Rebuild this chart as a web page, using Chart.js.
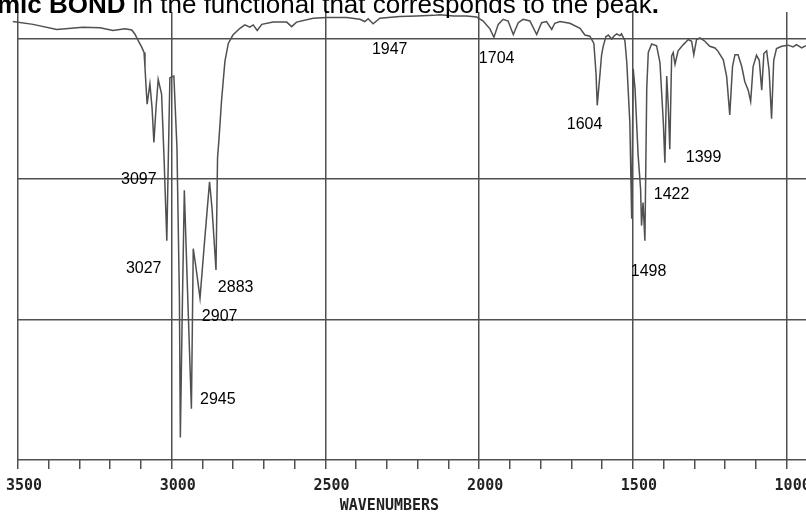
<!DOCTYPE html>
<html>
<head>
<meta charset="utf-8">
<script src="https://cdn.jsdelivr.net/npm/chart.js@4/dist/chart.umd.min.js"></script>
<style>
  html, body { margin: 0; padding: 0; background: #fff; }
  #wrap { width: 806px; height: 515px; }
</style>
</head>
<body>
<div id="wrap"><canvas id="c" width="806" height="515"></canvas></div>
<script>
// Wavenumbers (cm-1)
const wavenumbers = [3517,3451,3374,3289,3233,3191,3152,3130,3120,3109,
  3098,3090,3087,3084,3080,3071,3064,3058,3051,3044,
  3033,3025,3016,3011,3006,2993,2983,2975,2972,2965,
  2959,2950,2936,2930,2921,2908,2895,2877,2869,2856,
  2851,2846,2838,2827,2816,2801,2778,2762,2746,2735,
  2722,2707,2670,2626,2610,2594,2540,2496,2431,2388,
  2372,2361,2345,2323,2258,2203,2149,2128,2084,2041,
  2008,1987,1965,1952,1938,1922,1906,1889,1873,1857,
  1835,1813,1797,1781,1764,1754,1737,1705,1672,1656,
  1640,1627,1620,1616,1607,1602,1597,1588,1580,1569,
  1562,1553,1542,1537,1526,1520,1510,1504,1499,1493,
  1483,1475,1472,1467,1461,1455,1450,1439,1423,1412,
  1401,1396,1390,1385,1380,1374,1369,1363,1353,1336,
  1320,1309,1302,1293,1282,1266,1250,1233,1223,1206,
  1195,1185,1176,1168,1158,1146,1136,1125,1117,1109,
  1098,1089,1081,1074,1065,1057,1049,1042,1033,1016,
  995,979,968,951,937];
// Transmittance (chart units, grid lines every 25)
const transmittance = [78.0,77.5,76.6,77.0,76.9,76.4,76.7,76.5,75.8,74.6,
  73.5,72.5,69.9,66.9,63.3,66.9,62.7,56.5,62.7,67.7,
  65.1,53.8,39.0,53.8,68.0,68.3,55.6,28.9,4.0,28.9,
  48.0,32.4,9.1,37.6,34.2,28.8,37.7,49.5,44.8,33.8,
  53.7,57.3,63.9,70.9,74.1,75.6,76.8,77.4,77.0,77.4,
  76.4,77.5,77.9,77.9,77.1,77.9,78.6,78.7,78.7,78.4,
  78.0,78.5,77.6,78.6,78.9,79.0,79.1,79.2,79.0,79.0,
  78.8,78.1,76.7,75.2,77.5,78.4,78.1,75.7,77.8,78.4,
  78.1,75.7,77.8,78.0,76.6,77.7,78.0,77.7,76.8,75.6,
  75.4,74.1,68.8,63.1,68.7,72.0,73.5,75.3,75.6,74.9,
  75.4,75.8,75.5,75.8,74.6,70.8,60.1,42.9,69.6,66.0,
  54.2,48.2,41.7,45.8,39.0,66.0,72.5,74.0,73.7,70.7,
  60.0,52.9,68.3,63.0,55.3,71.9,72.5,70.4,72.8,73.9,
  74.8,74.5,72.1,74.8,75.1,74.5,73.6,73.3,72.7,71.2,
  68.2,61.4,70.0,72.1,72.1,70.0,67.3,65.8,63.8,70.0,
  72.0,71.1,65.8,72.3,72.8,69.3,60.7,71.1,73.2,73.6,
  73.8,73.5,73.9,73.3,73.7];

// Axis ticks
const xTicks = [3500,3400,3300,3200,3100,3000,2900,2800,2700,2600,2500,2400,2300,2200,2100,2000,1900,1800,1700,1600,1500,1400,1300,1200,1100,1000];
const xLabelled = [3500,3000,2500,2000,1500,1000];
const yTicks = [0,25,50,75];

// Peak annotations (text, anchor wavenumber, anchor transmittance)
const peakText = ['3097','3027','2945','2907','2883','1947','1704','1604','1498','1422','1399'];
const peakWn   = [3165,3149,2908,2902,2850,2349,2001,1715,1507,1432,1328];
const peakT    = [49.8,34.0,10.7,25.6,30.6,73.0,71.4,59.6,33.6,47.3,53.8];

const headingBold = 'mic BOND';
const headingRest = ' in the functional that corresponds to the peak';
const headingEnd = '.';
const axisTitle = 'WAVENUMBERS     ';

const GRID = '#505050';

const overlay = {
  id: 'overlay',
  beforeDraw(chart) {
    const ctx = chart.ctx;
    ctx.save();
    ctx.fillStyle = '#fff';
    ctx.fillRect(0, 0, chart.width, chart.height);
    ctx.restore();
  },
  afterDraw(chart) {
    const { ctx, scales: { x, y } } = chart;
    ctx.save();
    ctx.fillStyle = '#000';
    ctx.font = '16px "Liberation Sans", Arial, sans-serif';
    ctx.textBaseline = 'middle';
    ctx.textAlign = 'left';
    peakText.forEach((t, i) => {
      ctx.fillText(t, x.getPixelForValue(peakWn[i]), y.getPixelForValue(peakT[i]));
    });
    // clipped heading line from the original page
    ctx.textBaseline = 'alphabetic';
    let hx = -3;
    const hy = 13;
    ctx.font = 'bold 26px "Liberation Sans", Arial, sans-serif';
    ctx.fillText(headingBold, hx, hy);
    hx += ctx.measureText(headingBold).width;
    ctx.font = '26px "Liberation Sans", Arial, sans-serif';
    ctx.fillText(headingRest, hx, hy);
    hx += ctx.measureText(headingRest).width;
    ctx.font = 'bold 26px "Liberation Sans", Arial, sans-serif';
    ctx.fillText(headingEnd, hx, hy);
    ctx.restore();
  }
};

new Chart(document.getElementById('c'), {
  type: 'line',
  data: {
    datasets: [{
      data: wavenumbers.map((w, i) => ({ x: w, y: transmittance[i] })),
      borderColor: '#505050',
      borderWidth: 1.5,
      pointRadius: 0,
      tension: 0,
      fill: false,
      clip: false
    }]
  },
  options: {
    responsive: false,
    devicePixelRatio: 1,
    animation: false,
    layout: { padding: { left: 18, right: 0, top: 12, bottom: 0 } },
    plugins: { legend: { display: false }, tooltip: { enabled: false }, title: { display: false } },
    scales: {
      x: {
        type: 'linear',
        reverse: true,
        min: 937,
        max: 3500,
        afterBuildTicks: (s) => { s.ticks = xTicks.map(v => ({ value: v })); },
        afterFit: (s) => { s.height = 55; s.paddingLeft = 0; s.paddingRight = 0; },
        border: { display: false },
        grid: {
          color: (c) => (c.tick && xLabelled.includes(c.tick.value)) ? GRID : 'rgba(0,0,0,0)',
          tickColor: GRID,
          lineWidth: 1.5,
          drawTicks: true,
          tickLength: 9
        },
        ticks: {
          autoSkip: false,
          maxRotation: 0,
          minRotation: 0,
          padding: 8,
          labelOffset: 6,
          color: '#222',
          font: { family: '"DejaVu Sans Mono", monospace', size: 15, weight: 'bold' },
          callback: (v) => xLabelled.includes(v) ? String(v) : ''
        },
        title: {
          display: true,
          text: axisTitle,
          color: '#222',
          font: { family: '"DejaVu Sans Mono", monospace', size: 15, weight: 'bold' },
          padding: { top: 0, bottom: 0 }
        }
      },
      y: {
        min: 0,
        max: 79.7,
        afterBuildTicks: (s) => { s.ticks = yTicks.map(v => ({ value: v })); },
        afterFit: (s) => { s.width = 0; s.paddingTop = 0; s.paddingBottom = 0; },
        border: { display: false },
        grid: { color: GRID, lineWidth: 1.5, drawTicks: false },
        ticks: { display: false }
      }
    }
  },
  plugins: [overlay]
});
</script>
</body>
</html>
